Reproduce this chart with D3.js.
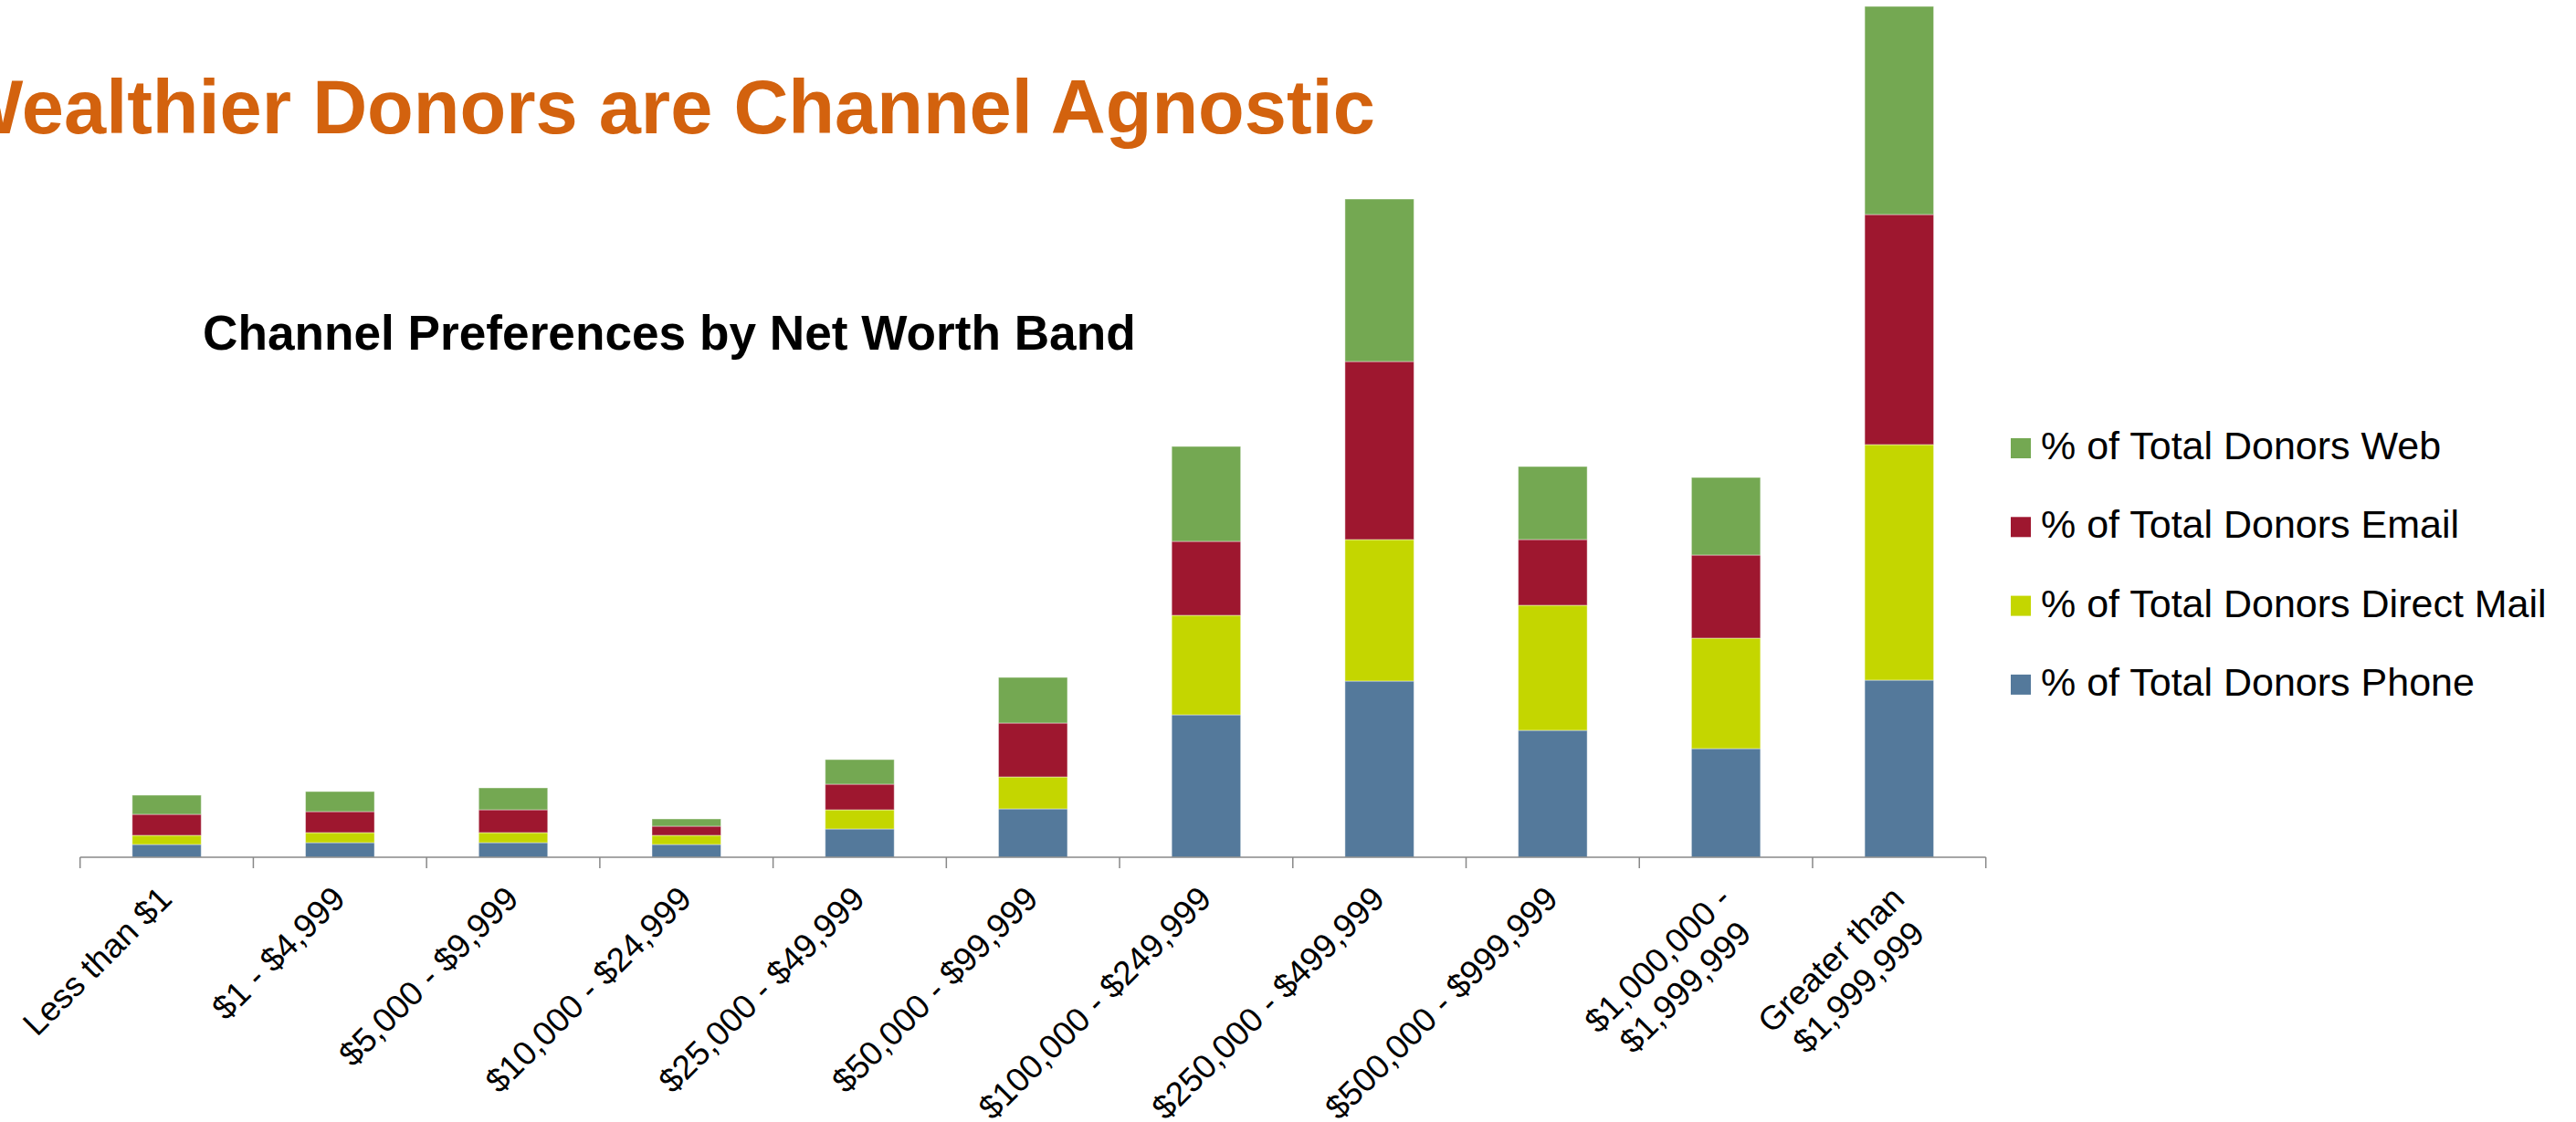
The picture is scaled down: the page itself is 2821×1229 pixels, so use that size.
<!DOCTYPE html>
<html>
<head>
<meta charset="utf-8">
<script src="https://cdn.jsdelivr.net/npm/d3@7"></script>
<style>
  html, body { margin: 0; padding: 0; background: #ffffff; overflow: hidden; }
  svg { display: block; }
</style>
</head>
<body>
<svg id="chart" width="2821" height="1229"></svg>
<script>
// ---------------- data ----------------
const categories = [
  "Less than $1", "$1 - $4,999", "$5,000 - $9,999", "$10,000 - $24,999",
  "$25,000 - $49,999", "$50,000 - $99,999", "$100,000 - $249,999",
  "$250,000 - $499,999", "$500,000 - $999,999", "$1,000,000 -\n$1,999,999",
  "Greater than\n$1,999,999"
];
const seriesNames = [
  "% of Total Donors Phone", "% of Total Donors Direct Mail",
  "% of Total Donors Email", "% of Total Donors Web"
];
const phone      = [1.4, 1.6, 1.6, 1.4, 3.1, 5.3, 15.6, 19.3, 13.9, 11.9, 19.4];
const directMail = [1.0, 1.1, 1.1, 1.0, 2.1, 3.5, 10.9, 15.5, 13.7, 12.1, 25.8];
const email      = [2.3, 2.3, 2.5, 1.0, 2.8, 5.9,  8.1, 19.5,  7.2,  9.1, 25.2];
const web        = [2.1, 2.2, 2.4, 0.8, 2.7, 5.0, 10.4, 17.8,  8.0,  8.5, 22.8];
const seriesColors = ["#54799B", "#C4D600", "#9E172F", "#74A852"];
const titleText = "Wealthier Donors are Channel Agnostic";
const subtitleText = "Channel Preferences by Net Worth Band";

// ---------------- layout ----------------
const svg = d3.select("#chart");
const FONT = "'Liberation Sans', Arial, sans-serif";
const axisY = 939;
const plotLeft = 87.7, plotRight = 2174.7;

const table = categories.map((c, i) => ({
  cat: c, phone: phone[i], dm: directMail[i], email: email[i], web: web[i]
}));
const keys = ["phone", "dm", "email", "web"];
const stacked = d3.stack().keys(keys)(table);

const x = d3.scaleBand().domain(categories).range([plotLeft, plotRight])
  .paddingInner(0.602).paddingOuter(0.301);
const y = d3.scaleLinear().domain([0, 100]).range([axisY, axisY - 1000]);

// title
svg.append("text")
  .attr("x", -53).attr("y", 146)
  .attr("font-family", FONT)
  .attr("font-weight", "bold").attr("font-size", 83)
  .attr("fill", "#D3620E")
  .text(titleText);

// subtitle
svg.append("text")
  .attr("x", 222).attr("y", 383)
  .attr("font-family", FONT)
  .attr("font-weight", "bold").attr("font-size", 53.2)
  .attr("fill", "#000000")
  .text(subtitleText);

// bars
const layers = svg.append("g").selectAll("g").data(stacked).join("g")
  .attr("fill", (d, i) => seriesColors[i]);
layers.selectAll("rect").data(d => d).join("rect")
  .attr("x", d => x(d.data.cat))
  .attr("width", x.bandwidth())
  .attr("y", d => y(d[1]))
  .attr("height", d => y(d[0]) - y(d[1]))
  .attr("stroke", "rgba(255,255,255,0.45)")
  .attr("stroke-width", 1);

// axis
const step = x.step();
const axisG = svg.append("g");
axisG.append("line")
  .attr("x1", plotLeft).attr("x2", plotRight)
  .attr("y1", axisY).attr("y2", axisY)
  .attr("stroke", "#888888").attr("stroke-width", 1.5);
const tickPositions = d3.range(categories.length + 1).map(i => plotLeft + i * step);
axisG.selectAll("line.tick").data(tickPositions).join("line")
  .attr("class", "tick")
  .attr("x1", d => d).attr("x2", d => d)
  .attr("y1", axisY).attr("y2", axisY + 12)
  .attr("stroke", "#888888").attr("stroke-width", 1.5);

// category labels, rotated -45
const labelSize = 37;
const lineH = 42.5;
const labelG = svg.append("g")
  .attr("font-family", FONT)
  .attr("font-size", labelSize).attr("fill", "#000000");
categories.forEach(c => {
  const cx = x(c) + x.bandwidth() / 2;
  const g = labelG.append("g")
    .attr("transform", `translate(${cx - 16},${axisY + 24}) rotate(-45)`);
  const lines = c.split("\n");
  const t = g.append("text").attr("text-anchor", "middle");
  const spans = lines.map((ln, i) => t.append("tspan")
    .attr("x", 0).attr("y", labelSize * 0.905 + i * lineH).text(ln));
  const widths = spans.map(s => s.node().getComputedTextLength());
  const W = d3.max(widths);
  spans.forEach(s => s.attr("x", -W / 2));
});

// legend (top to bottom: Web, Email, Direct Mail, Phone)
const legendOrder = [3, 2, 1, 0];
const legendG = svg.append("g")
  .attr("font-family", FONT)
  .attr("font-size", 43).attr("fill", "#000000");
legendOrder.forEach((si, r) => {
  const base = 503 + r * 86.3;
  legendG.append("rect")
    .attr("x", 2202).attr("y", base - 23)
    .attr("width", 22).attr("height", 22)
    .attr("fill", seriesColors[si]);
  legendG.append("text")
    .attr("x", 2235).attr("y", base)
    .text(seriesNames[si]);
});
</script>
</body>
</html>
